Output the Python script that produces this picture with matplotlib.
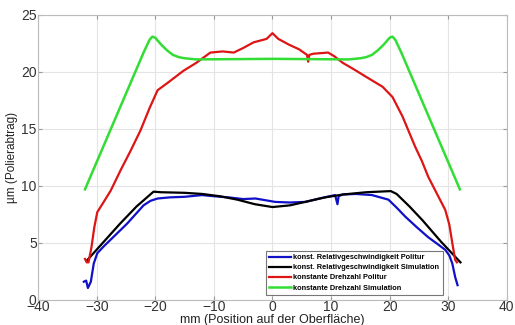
import numpy as np
import matplotlib
matplotlib.use("Agg")
import matplotlib.pyplot as plt

plt.rcParams['font.family'] = ['Liberation Sans', 'DejaVu Sans']

# konst. Relativgeschwindigkeit Politur (blau)
blue_x = [-32.2, -31.8, -31.5, -31.0, -30.5, -29.9, -28.8, -27.6, -26.2, -24.8, -23.4, -22.0, -20.8, -19.6,
          -17.5, -15.0, -12.0, -10.0, -7.5, -5.0, -2.9, 0.5, 3.0, 5.6, 8.0, 10.7, 11.1, 11.3, 12.0,
          14.2, 17.0, 19.8, 21.2, 22.7, 24.6, 26.6, 28.2, 29.5, 30.2, 30.7, 31.2, 31.6]
blue_y = [1.6, 1.7, 1.05, 1.6, 3.2, 4.1, 4.7, 5.3, 6.0, 6.7, 7.5, 8.3, 8.7, 8.9,
          9.0, 9.05, 9.2, 9.1, 9.0, 8.85, 8.9, 8.6, 8.55, 8.6, 8.9, 9.2, 8.4, 9.1, 9.25,
          9.3, 9.2, 8.8, 8.1, 7.3, 6.4, 5.5, 4.9, 4.4, 3.9, 3.2, 2.0, 1.3]

# konst. Relativgeschwindigkeit Simulation (schwarz)
black_x = [-31.6, -28.8, -26.0, -23.2, -20.3, -19.0, -15.0, -12.0, -9.0, -6.0, -3.0, 0.0,
           3.0, 6.0, 9.0, 12.0, 16.0, 20.2, 21.2, 23.4, 25.6, 28.8, 32.1]
black_y = [3.5, 5.1, 6.7, 8.2, 9.5, 9.45, 9.4, 9.3, 9.1, 8.8, 8.4, 8.15,
           8.3, 8.65, 9.0, 9.25, 9.45, 9.55, 9.3, 8.2, 7.0, 5.1, 3.3]

# konstante Drehzahl Politur (rot)
red_x = [-32.0, -31.7, -31.4, -30.9, -30.4, -29.9, -28.8, -27.6, -25.9, -24.2, -22.5, -21.0, -19.6, -18.0,
         -15.2, -13.0, -10.6, -8.5, -6.6, -5.0, -3.2, -1.0, 0.0, 1.0, 2.8, 4.5, 5.9, 6.1, 6.3,
         7.0, 9.5, 10.5, 12.0, 14.0, 15.9, 18.8, 20.5, 22.2, 24.4, 25.5, 26.6, 28.0, 29.5, 30.2,
         30.7, 31.2, 31.5]
red_y = [3.6, 3.3, 3.3, 4.6, 6.4, 7.7, 8.6, 9.6, 11.4, 13.1, 14.9, 16.8, 18.4, 19.0,
         20.1, 20.8, 21.7, 21.8, 21.7, 22.1, 22.6, 22.9, 23.4, 22.9, 22.4, 22.0, 21.5, 20.9, 21.5,
         21.6, 21.7, 21.4, 20.8, 20.2, 19.6, 18.7, 17.8, 16.1, 13.4, 12.2, 10.8, 9.4, 7.9, 6.6,
         5.0, 3.5, 3.3]

# konstante Drehzahl Simulation (gruen)
green_x = [-32.0, -30.0, -28.0, -26.0, -24.0, -22.0, -21.0, -20.5, -20.0, -19.0, -18.0, -17.0,
           -16.0, -15.0, -13.0, 0.0, 13.0, 15.0, 16.0, 17.0, 18.0, 19.0, 20.0, 20.5, 21.0,
           22.0, 24.0, 26.0, 28.0, 30.0, 32.0]
green_y = [9.7, 12.1, 14.5, 16.9, 19.3, 21.7, 22.8, 23.1, 23.0, 22.4, 21.9, 21.5,
           21.3, 21.2, 21.1, 21.15, 21.1, 21.2, 21.3, 21.5, 21.9, 22.4, 23.0, 23.1, 22.8,
           21.7, 19.3, 16.9, 14.5, 12.1, 9.7]

labels = ["konst. Relativgeschwindigkeit Politur",
          "konst. Relativgeschwindigkeit Simulation",
          "konstante Drehzahl Politur",
          "konstante Drehzahl Simulation"]

fig = plt.figure(figsize=(5.15, 3.25), dpi=100)
ax = fig.add_axes([0.074, 0.077, 0.91, 0.877])

ax.plot(blue_x, blue_y, color='#1010c8', lw=1.6, label=labels[0])
ax.plot(black_x, black_y, color='#000000', lw=1.6, label=labels[1])
ax.plot(red_x, red_y, color='#dd1515', lw=1.6, label=labels[2])
ax.plot(green_x, green_y, color='#33dd33', lw=1.8, label=labels[3])

ax.set_xlim(-40, 40)
ax.set_ylim(0, 25)
ax.set_xticks(np.arange(-40, 41, 10))
ax.set_yticks(np.arange(0, 26, 5))
ax.grid(True, color='#e4e4e4', lw=0.8)
ax.set_axisbelow(True)
for s in ax.spines.values():
    s.set_color('#bbbbbb')
ax.tick_params(direction='in', top=True, right=True, length=3, color='#999999',
               labelsize=10, labelcolor='#333333', pad=1)
ax.tick_params(axis='x', pad=0)

ax.set_xlabel("mm (Position auf der Oberfläche)", fontsize=9, color='#222222', labelpad=0)
ax.set_ylabel("µm (Polierabtrag)", fontsize=8.5, color='#222222', labelpad=2)

leg = ax.legend(loc='lower left', bbox_to_anchor=(0.478, 0.005),
                prop={'weight': 'bold', 'size': 5.3}, handlelength=3, handletextpad=0.3,
                labelspacing=0.4, borderpad=0.45, frameon=True, fancybox=False)
leg.get_frame().set_edgecolor('#555555')
leg.get_frame().set_linewidth(0.8)

fig.savefig("out.png", dpi=100)
